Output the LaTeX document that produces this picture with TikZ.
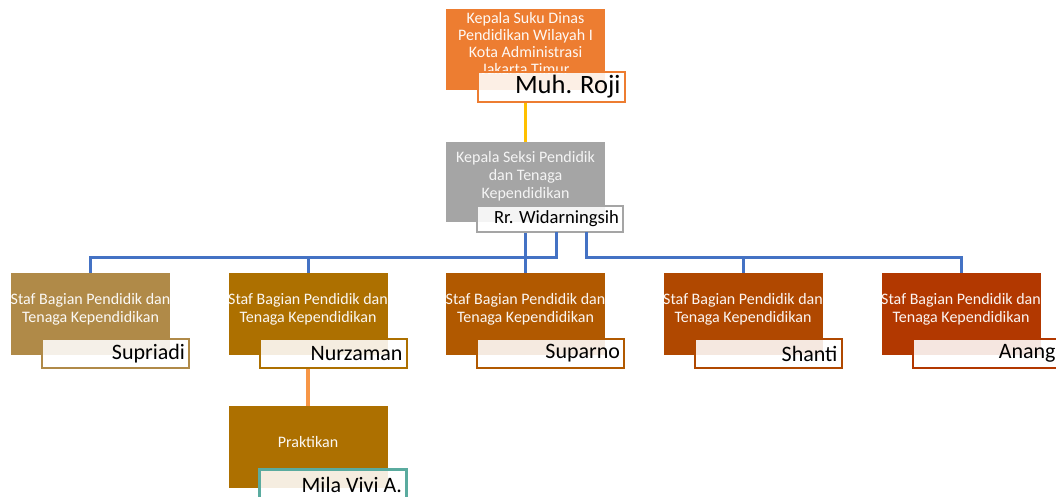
\documentclass[tikz,border=0pt]{standalone}
\usepackage{fontspec}
\setmainfont{Carlito}
\usetikzlibrary{calc}
\definecolor{cTop}{HTML}{ED7D31}
\definecolor{cGray}{HTML}{A5A5A5}
\definecolor{cA}{HTML}{B08A48}
\definecolor{cB}{HTML}{AD7000}
\definecolor{cC}{HTML}{B15900}
\definecolor{cD}{HTML}{B04800}
\definecolor{cE}{HTML}{B23800}
\definecolor{cYellow}{HTML}{FFC000}
\definecolor{cBlue}{HTML}{4472C4}
\definecolor{cLink}{HTML}{F79646}
\definecolor{cTeal}{HTML}{5AAB9F}
\begin{document}
\begin{tikzpicture}[x=1pt,y=-1pt,
  box/.style={fill=#1, draw=none, minimum width=159pt, minimum height=81pt, inner sep=0pt},
  boxtext/.style={text=white, text opacity=0.95, align=center, inner sep=0pt, font=\fontsize{16}{18}\selectfont},
  namebox/.style={draw=#1, line width=2pt, fill=white, fill opacity=0.88, text opacity=1,
    minimum width=147pt, minimum height=29pt, text width=139pt, align=flush right,
    inner xsep=4pt, inner ysep=0pt, text=black},
  bluelink/.style={draw=cBlue, line width=3pt},
]
\useasboundingbox (0,0) rectangle (1056,497);

% top
\node[box=cTop, minimum height=81pt] (top) at (525.5,49.5) {};
\node[boxtext, font=\fontsize{16}{17}\selectfont] (topt) at ([yshift=5.5pt]top.center)
  {Kepala Suku Dinas\\Pendidikan Wilayah I\\Kota Administrasi\\Jakarta Timur};
\node[namebox=cTop, minimum height=30pt, font=\fontsize{26.5}{28}\selectfont] (topn) at (551,87) {Muh. Roji};

% second
\node[box=cGray, minimum height=80pt] (sec) at (525.5,182) {};
\node[boxtext, font=\fontsize{16}{18}\selectfont, text=white!95!gray] (sect) at ([yshift=6pt]sec.center)
  {Kepala Seksi Pendidik\\dan Tenaga\\Kependidikan};
\node[namebox=cGray, minimum height=26pt, minimum width=146pt, text width=138pt, font=\fontsize{18.6}{21}\selectfont] (secn) at (550,219) {Rr. Widarningsih};

\draw[cYellow, line width=2.5pt] (topn.south -| top.center) -- (sec.north);

% level 3
\foreach \n/\x/\c/\nm in {b1/90.5/cA/Supriadi, b2/308/cB/Nurzaman, b3/525.5/cC/Suparno, b4/743/cD/Shanti, b5/961/cE/Anang}{
  \node[box=\c, minimum height=82pt] (\n) at (\x,314) {};
  \node[boxtext] (\n t) at ([yshift=5pt]\n.center) {Staf Bagian Pendidik dan\\Tenaga Kependidikan};
  \node[namebox=\c, font=\fontsize{22}{24}\selectfont] (\n n) at ($(\n.center)+(25,39.5)$) {\nm};
}

% praktikan
\node[box=cB, minimum height=82pt] (p) at (308,447) {};
\node[boxtext] (pt) at ([yshift=5pt]p.center) {Praktikan};
\draw[cLink, line width=4pt] (b2n.south -| b2.center) -- (p.north);
\node[namebox=cTeal, line width=3pt, minimum height=31pt, font=\fontsize{22}{24}\selectfont] (pn) at (332.5,484.5) {Mila Vivi A.};

% blue connectors
\coordinate (bus) at (0,257);
\coordinate (tapA) at (556,232);
\coordinate (tapB) at (586,232);
\draw[bluelink] (secn.south -| sec.center) -- (b3.north);
\draw[bluelink] (tapA) |- (bus -| b1.north) -- (b1.north);
\draw[bluelink] (tapA) |- (bus -| b2.north) -- (b2.north);
\draw[bluelink] (tapB) |- (bus -| b4.north) -- (b4.north);
\draw[bluelink] (tapB) |- (bus -| b5.north) -- (b5.north);
\end{tikzpicture}
\end{document}
